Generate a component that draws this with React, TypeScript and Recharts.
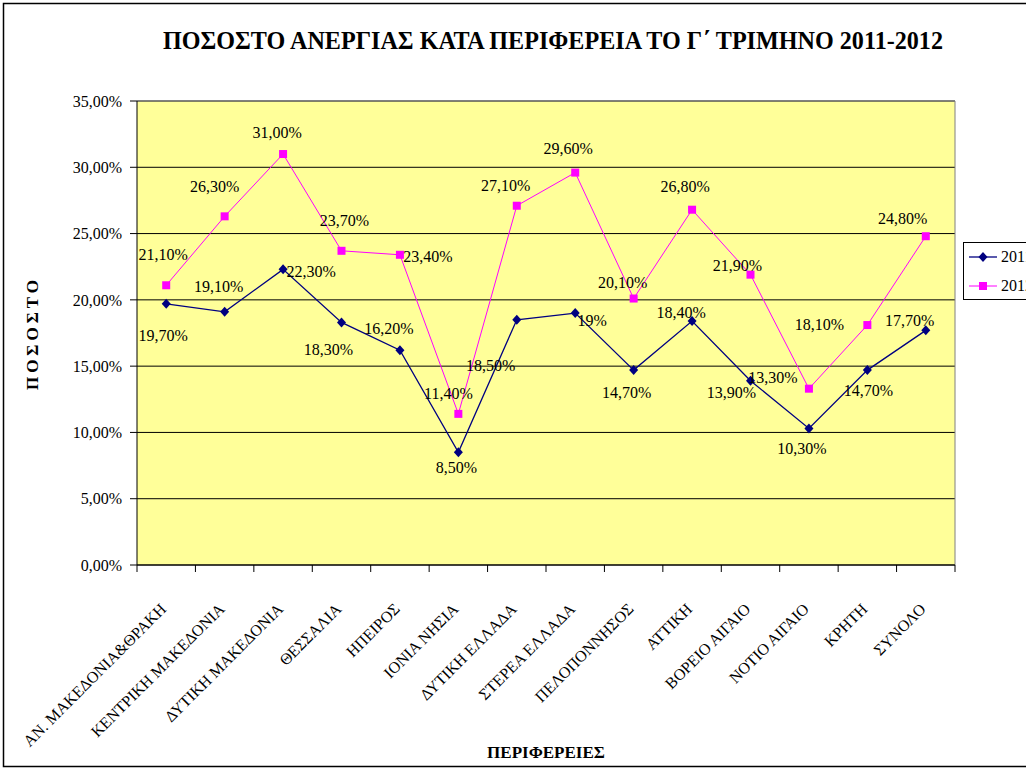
import { LineChart, Line, XAxis, YAxis, CartesianGrid, LabelList, Legend, ReferenceLine } from 'recharts'

const regions = [
  'ΑΝ. ΜΑΚΕΔΟΝΙΑ&ΘΡΑΚΗ',
  'ΚΕΝΤΡΙΚΗ ΜΑΚΕΔΟΝΙΑ',
  'ΔΥΤΙΚΗ ΜΑΚΕΔΟΝΙΑ',
  'ΘΕΣΣΑΛΙΑ',
  'ΗΠΕΙΡΟΣ',
  'ΙΟΝΙΑ ΝΗΣΙΑ',
  'ΔΥΤΙΚΗ ΕΛΛΑΔΑ',
  'ΣΤΕΡΕΑ ΕΛΛΑΔΑ',
  'ΠΕΛΟΠΟΝΝΗΣΟΣ',
  'ΑΤΤΙΚΗ',
  'ΒΟΡΕΙΟ ΑΙΓΑΙΟ',
  'ΝΟΤΙΟ ΑΙΓΑΙΟ',
  'ΚΡΗΤΗ',
  'ΣΥΝΟΛΟ',
]

const rate2011 = [19.7, 19.1, 22.3, 18.3, 16.2, 8.5, 18.5, 19, 14.7, 18.4, 13.9, 10.3, 14.7, 17.7]
const rate2012 = [21.1, 26.3, 31.0, 23.7, 23.4, 11.4, 27.1, 29.6, 20.1, 26.8, 21.9, 13.3, 18.1, 24.8]
// points whose label the original shows without decimals ("19%")
const plainLabels2011 = [7]

const yTicks = [0, 5, 10, 15, 20, 25, 30, 35]
const boundaryTicks = regions.map((_, i) => i).concat(regions.length)
const seriesNames = ['2011', '2012']

// label nudges (dx, dy) relative to each point, as placed in the original
const shift2011 = [[-3, 32], [-6, -25], [28, 2], [-13, 27], [-11, -22], [-2, 15], [-26, 46], [17, 7], [-7, 22], [-11, -9], [-19, 12], [-7, 20], [1, 20], [-16, -10]]
const shift2012 = [[-3, -31], [-10, -30], [-6, -22], [3, -30], [28, 2], [-10, -20], [-11, -20], [-7, -24], [-11, -16], [-7, -23], [-13, -9], [-36, -11], [-48, -1], [-23, -18]]

const chartData = regions.map((region, i) => ({
  region,
  pos: i + 0.5,
  r2011: rate2011[i],
  r2012: rate2012[i],
}))

const CHART_W = 1026
const CHART_H = 770
const Y_AXIS_W = 137
const MARGIN = { top: 101, right: 71, bottom: 0, left: 0 }
const HALF_BAND = (CHART_W - Y_AXIS_W - MARGIN.right) / regions.length / 2

const FONT = 'Liberation Serif, Times New Roman, serif'
const NAVY = '#000080'
const MAGENTA = '#FF00FF'

const fmtAxis = (v: number) => `${v.toFixed(2).replace('.', ',')}%`
const fmtLabel = (v: number, plain: boolean) => (plain ? `${v}%` : `${v.toFixed(2).replace('.', ',')}%`)

const Diamond = ({ cx, cy, index }: any) => (
  <path key={`d-${index}`} d={`M${cx},${cy - 5} L${cx + 4.5},${cy} L${cx},${cy + 5} L${cx - 4.5},${cy} Z`} fill={NAVY} />
)

const Square = ({ cx, cy, index }: any) => (
  <rect key={`s-${index}`} x={cx - 4} y={cy - 4} width={8} height={8} fill={MAGENTA} />
)

const makeLabel = (shifts: number[][], plain: number[]) => (props: any) => {
  const { x, y, value, index } = props
  const [dx, dy] = shifts[index] || [0, -20]
  return (
    <text x={x + dx} y={y + dy} textAnchor="middle" dominantBaseline="central" style={{ fontFamily: FONT, fontSize: 16 }} fill="#000">
      {fmtLabel(value, plain.includes(index))}
    </text>
  )
}

// tick sits on the category boundary; the name is drawn at the middle of the band to its right
const RegionTick = ({ x, y, payload }: any) => {
  const name = regions[payload.value]
  if (!name) return <g />
  const tx = x + HALF_BAND + 1
  const ty = y + 38
  return (
    <text x={tx} y={ty} transform={`rotate(-45, ${tx}, ${ty})`} textAnchor="end" style={{ fontFamily: FONT, fontSize: 16 }} fill="#000">
      {name}
    </text>
  )
}

const LegendBox = () => (
  <svg width={100} height={58} style={{ display: 'block' }}>
    <rect x={0.5} y={0.5} width={98} height={57} fill="#fff" stroke="#000" />
    <line x1={6} y1={15} x2={34} y2={15} stroke={NAVY} strokeWidth={1.3} />
    <path d="M20,10 L24.5,15 L20,20 L15.5,15 Z" fill={NAVY} />
    <text x={38} y={20} style={{ fontFamily: FONT, fontSize: 16 }} fill="#000">{seriesNames[0]}</text>
    <line x1={6} y1={44} x2={34} y2={44} stroke={MAGENTA} strokeWidth={1} />
    <rect x={16} y={40} width={8} height={8} fill={MAGENTA} />
    <text x={38} y={49} style={{ fontFamily: FONT, fontSize: 16 }} fill="#000">{seriesNames[1]}</text>
  </svg>
)

export default function App() {
  return (
    <div style={{ position: 'fixed', left: 0, top: 0, width: CHART_W, height: CHART_H, overflow: 'hidden', background: '#fff', fontFamily: FONT }}>
      <LineChart width={CHART_W} height={CHART_H} data={chartData} margin={MARGIN}>
        <CartesianGrid vertical={false} stroke="#000" fill="#FFFF99" fillOpacity={1} />
        <XAxis
          type="number"
          dataKey="pos"
          domain={[0, regions.length]}
          ticks={boundaryTicks}
          interval={0}
          height={CHART_H - 565}
          tickSize={7}
          tickMargin={0}
          tick={<RegionTick />}
          axisLine={{ stroke: '#000' }}
          tickLine={{ stroke: '#000' }}
        />
        <YAxis
          width={Y_AXIS_W}
          domain={[0, 35]}
          ticks={yTicks}
          tickFormatter={fmtAxis}
          tickSize={7}
          tickMargin={8}
          axisLine={{ stroke: '#000' }}
          tickLine={{ stroke: '#000' }}
          tick={{ fill: '#000', fontFamily: FONT, fontSize: 16 }}
        />
        <ReferenceLine y={35} stroke="#808080" />
        <ReferenceLine x={regions.length} stroke="#808080" />
        <Legend
          layout="vertical"
          align="center"
          verticalAlign="middle"
          width={100}
          content={() => <LegendBox />}
          wrapperStyle={{ left: 963, top: 242, width: 100, height: 58 }}
        />
        <Line
          name={seriesNames[0]}
          dataKey="r2011"
          stroke={NAVY}
          strokeWidth={1.3}
          dot={<Diamond />}
          activeDot={false}
          isAnimationActive={false}
        >
          <LabelList dataKey="r2011" content={makeLabel(shift2011, plainLabels2011)} />
        </Line>
        <Line
          name={seriesNames[1]}
          dataKey="r2012"
          stroke={MAGENTA}
          strokeWidth={1}
          dot={<Square />}
          activeDot={false}
          isAnimationActive={false}
        >
          <LabelList dataKey="r2012" content={makeLabel(shift2012, [])} />
        </Line>
      </LineChart>
      <svg width={CHART_W} height={CHART_H} style={{ position: 'absolute', left: 0, top: 0, pointerEvents: 'none' }}>
        <rect x={3.5} y={3.5} width={1100} height={763} fill="none" stroke="#000" strokeWidth={1.5} />
        <text x={553} y={49} textAnchor="middle" style={{ fontFamily: FONT, fontWeight: 'bold', fontSize: 25 }} textLength={780} lengthAdjust="spacingAndGlyphs" fill="#000">
          ΠΟΣΟΣΤΟ ΑΝΕΡΓΙΑΣ ΚΑΤΑ ΠΕΡΙΦΕΡΕΙΑ ΤΟ Γ΄ ΤΡΙΜΗΝΟ 2011-2012
        </text>
        <text x={38} y={333} transform="rotate(-90, 38, 333)" textAnchor="middle" style={{ fontFamily: FONT, fontWeight: 'bold', fontSize: 17, letterSpacing: 4 }} fill="#000">
          ΠΟΣΟΣΤΟ
        </text>
        <text x={546} y={758} textAnchor="middle" style={{ fontFamily: FONT, fontWeight: 'bold', fontSize: 17 }} fill="#000">
          ΠΕΡΙΦΕΡΕΙΕΣ
        </text>
      </svg>
    </div>
  )
}
